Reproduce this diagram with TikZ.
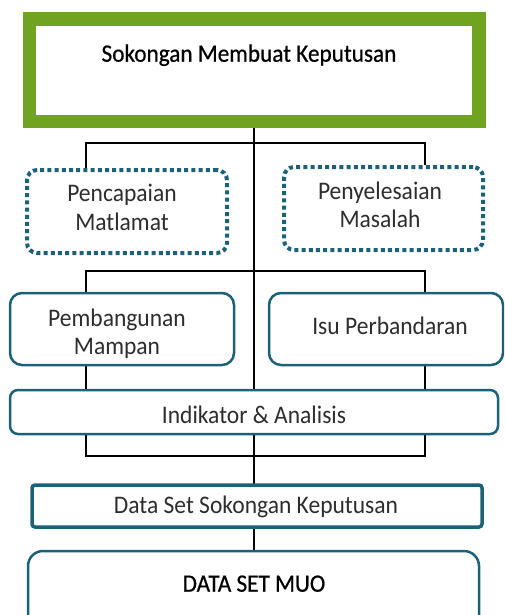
\documentclass[tikz,border=0pt]{standalone}
\usepackage{fontspec}
\setmainfont{Carlito}
\newfontfamily\tallfont[FakeStretch=0.93]{Carlito}
\newfontfamily\tallboldfont[FakeStretch=0.93,FakeBold=0.6]{Carlito}
\usetikzlibrary{backgrounds}
\definecolor{leafgreen}{RGB}{112,164,32}
\definecolor{deepteal}{RGB}{27,98,121}
\definecolor{inkgray}{RGB}{45,45,45}
\begin{document}
\begin{tikzpicture}[x=1pt,y=-1pt,
  txt/.style={anchor=base, inner sep=0pt, text=inkgray, font=\tallfont\fontsize{25.3}{30}\selectfont},
  greenbox/.style={draw=leafgreen, line width=13.5pt, fill=white, inner sep=0pt},
  dotbox/.style={draw=deepteal, line width=4pt, dash pattern=on 4pt off 3.2pt, rounded corners=10pt, fill=white, inner sep=0pt},
  roundbox/.style={draw=deepteal, line width=2.5pt, rounded corners=12pt, fill=white, inner sep=0pt},
  conn/.style={draw=black, line width=2pt}]
\useasboundingbox (0,0) rectangle (504,615);
\clip (0,0) rectangle (504,615);

% boxes
\node[greenbox, minimum width=449.5pt, minimum height=102.5pt] (top) at (254.25,70.25) {};
\node[txt, text=black, font=\tallboldfont\fontsize{25}{30}\selectfont] (ttop) at (249,61.7) {Sokongan Membuat Keputusan};

\node[dotbox, minimum width=200pt, minimum height=83pt] (pcm) at (127,211.5) {};
\node[txt] (pcm1) at (122,201.7) {Pencapaian};
\node[txt] (pcm2) at (122,230) {Matlamat};

\node[dotbox, minimum width=199pt, minimum height=83pt] (pys) at (383.5,208.5) {};
\node[txt] (pys1) at (380,199.3) {Penyelesaian};
\node[txt] (pys2) at (380,227.7) {Masalah};

\node[roundbox, minimum width=224pt, minimum height=72pt] (pb) at (122,329) {};
\node[txt] (pb1) at (117,326) {Pembangunan};
\node[txt] (pb2) at (117,354) {Mampan};

\node[roundbox, minimum width=234pt, minimum height=72pt] (isu) at (386,329) {};
\node[txt] (isu1) at (390,334) {Isu Perbandaran};

\node[roundbox, rounded corners=8pt, minimum width=488pt, minimum height=44pt] (ind) at (254,412) {};
\node[txt] (ind1) at (254,423.3) {Indikator \& Analisis};

\node[roundbox, line width=3.5pt, rounded corners=3pt, minimum width=450pt, minimum height=42pt] (dsk) at (257,506) {};
\node[txt] (dsk1) at (256,513.3) {Data Set Sokongan Keputusan};

\node[roundbox, rounded corners=15pt, minimum width=451pt, minimum height=89pt] (muo) at (253.5,595.5) {};
\node[txt, text=black, font=\tallboldfont\fontsize{25}{30}\selectfont] (muo1) at (254,591.7) {DATA SET MUO};

% connector bends
\coordinate (xl) at (86,0);
\coordinate (xr) at (425,0);
\coordinate (h1l) at (86,143);
\coordinate (h1r) at (425,143);
\coordinate (h2l) at (86,271);
\coordinate (h2r) at (425,271);
\coordinate (h3l) at (86,456);
\coordinate (h3r) at (425,456);

\begin{scope}[on background layer]
\draw[conn] (top.south) -- (top.south |- muo.north);
\draw[conn] (pcm.north -| xl) -- (h1l) -- (h1r) -- (pys.north -| xr);
\draw[conn] (pb.north -| xl) -- (h2l) -- (h2r) -- (isu.north -| xr);
\draw[conn] (pb.south -| xl) -- (h3l) -- (h3r) -- (isu.south -| xr);
\end{scope}
\end{tikzpicture}
\end{document}
